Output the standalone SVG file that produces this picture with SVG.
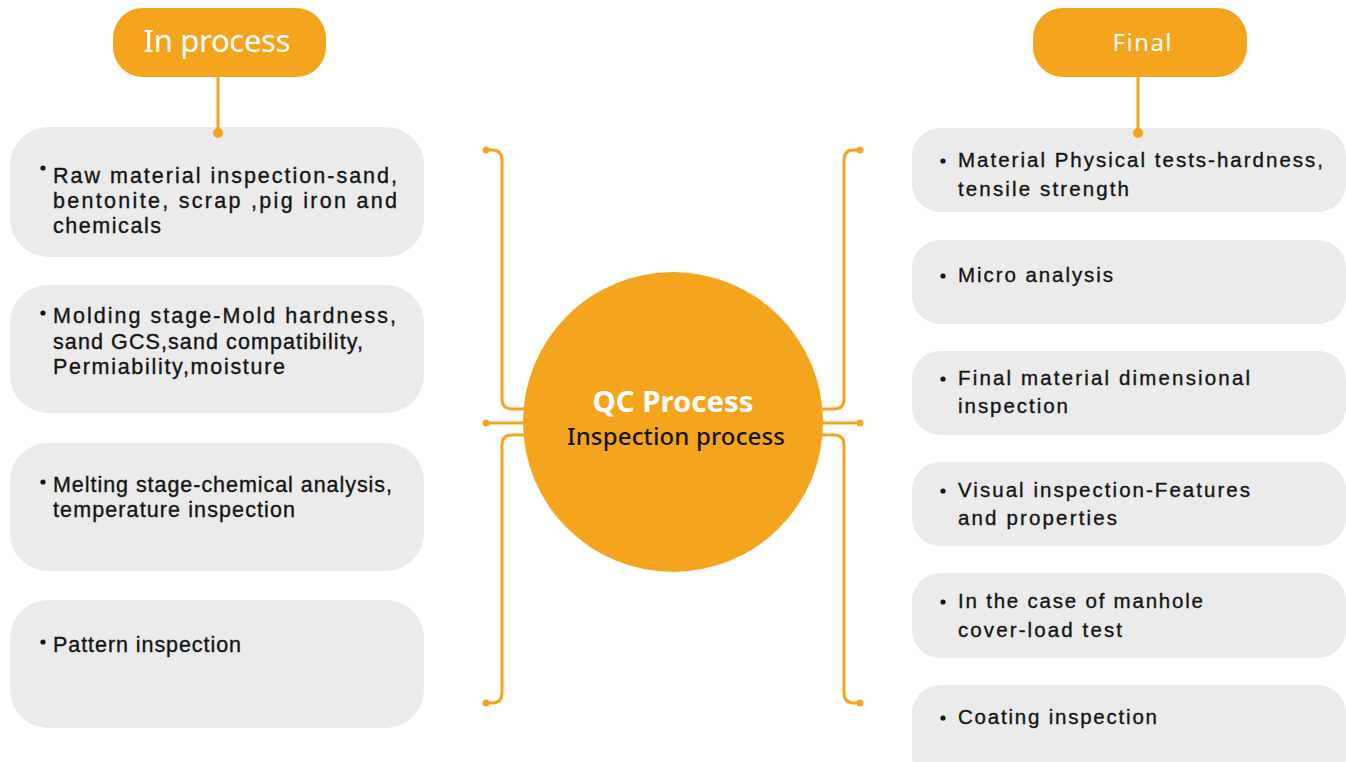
<svg xmlns="http://www.w3.org/2000/svg" width="1346" height="762" viewBox="0 0 1346 762">
<style>
.box{fill:#EBEBEB}
.pill{fill:#F5A51D}
.t{font-family:"Liberation Sans",Arial,sans-serif;fill:#141414;stroke:#141414;stroke-width:0.35}
.l{font-size:21.5px}
.r{font-size:20.5px}
.b{fill:#141414}
.ln{fill:none;stroke:#F5A51D;stroke-width:3;stroke-linecap:round}
.dot{fill:#F5A51D}
</style>
<rect width="1346" height="762" fill="#fff"/>
<g id="in-process">
<rect class="pill" x="113" y="8" width="213" height="69" rx="30"/>
<text x="217" y="52" text-anchor="middle" font-family="Noto Sans, Liberation Sans, sans-serif" font-size="31" fill="#fff" textLength="147" lengthAdjust="spacing">In process</text>
</g>
<g id="final">
<rect class="pill" x="1033" y="8" width="214" height="69" rx="30"/>
<text x="1142" y="51" text-anchor="middle" font-family="Noto Sans, Liberation Sans, sans-serif" font-size="24" fill="#fff" textLength="59" lengthAdjust="spacing">Final</text>
</g>
<g id="qc">
<circle cx="673" cy="422" r="150" fill="#F5A51D"/>
<text x="673" y="412" text-anchor="middle" font-family="Noto Sans, Liberation Sans, sans-serif" font-weight="700" font-size="28.5" fill="#fff" textLength="161" lengthAdjust="spacingAndGlyphs">QC Process</text>
<text x="676" y="445" text-anchor="middle" font-family="Noto Sans, Liberation Sans, sans-serif" font-weight="500" font-size="24" fill="#141414" textLength="218" lengthAdjust="spacing">Inspection process</text>
</g>
<g id="l1">
<rect class="box" x="10" y="127" width="414" height="130" rx="38"/>
<circle class="b" cx="43" cy="168" r="2.6"/>
<text class="t l" x="53" y="183" textLength="344" lengthAdjust="spacing">Raw material inspection-sand,</text>
<text class="t l" x="53" y="208" textLength="344" lengthAdjust="spacing">bentonite, scrap ,pig iron and</text>
<text class="t l" x="53" y="233" textLength="108" lengthAdjust="spacing">chemicals</text>
</g>
<g id="l2">
<rect class="box" x="10" y="285" width="414" height="128" rx="38"/>
<circle class="b" cx="43" cy="313" r="2.6"/>
<text class="t l" x="53" y="323" textLength="343" lengthAdjust="spacing">Molding stage-Mold hardness,</text>
<text class="t l" x="53" y="349" textLength="310" lengthAdjust="spacing">sand GCS,sand compatibility,</text>
<text class="t l" x="53" y="374" textLength="232" lengthAdjust="spacing">Permiability,moisture</text>
</g>
<g id="l3">
<rect class="box" x="10" y="443" width="414" height="128" rx="38"/>
<circle class="b" cx="43" cy="482" r="2.6"/>
<text class="t l" x="53" y="492" textLength="339" lengthAdjust="spacing">Melting stage-chemical analysis,</text>
<text class="t l" x="53" y="517" textLength="242" lengthAdjust="spacing">temperature inspection</text>
</g>
<g id="l4">
<rect class="box" x="10" y="600" width="414" height="128" rx="38"/>
<circle class="b" cx="43" cy="642" r="2.6"/>
<text class="t l" x="53" y="652" textLength="188" lengthAdjust="spacing">Pattern inspection</text>
</g>
<g id="r1">
<rect class="box" x="912" y="128" width="434" height="84" rx="28"/>
<circle class="b" cx="943" cy="161" r="2.6"/>
<text class="t r" x="958" y="167" textLength="365" lengthAdjust="spacing">Material Physical tests-hardness,</text>
<text class="t r" x="958" y="196" textLength="171" lengthAdjust="spacing">tensile strength</text>
</g>
<g id="r2">
<rect class="box" x="912" y="240" width="434" height="84" rx="28"/>
<circle class="b" cx="943" cy="276" r="2.6"/>
<text class="t r" x="958" y="282" textLength="155" lengthAdjust="spacing">Micro analysis</text>
</g>
<g id="r3">
<rect class="box" x="912" y="351" width="434" height="84" rx="28"/>
<circle class="b" cx="943" cy="379" r="2.6"/>
<text class="t r" x="958" y="385" textLength="292" lengthAdjust="spacing">Final material dimensional</text>
<text class="t r" x="958" y="413" textLength="110" lengthAdjust="spacing">inspection</text>
</g>
<g id="r4">
<rect class="box" x="912" y="462" width="434" height="84" rx="28"/>
<circle class="b" cx="943" cy="491" r="2.6"/>
<text class="t r" x="958" y="497" textLength="292" lengthAdjust="spacing">Visual inspection-Features</text>
<text class="t r" x="958" y="525" textLength="159" lengthAdjust="spacing">and properties</text>
</g>
<g id="r5">
<rect class="box" x="912" y="573" width="434" height="85" rx="28"/>
<circle class="b" cx="943" cy="602" r="2.6"/>
<text class="t r" x="958" y="608" textLength="245" lengthAdjust="spacing">In the case of manhole</text>
<text class="t r" x="958" y="637" textLength="164" lengthAdjust="spacing">cover-load test</text>
</g>
<g id="r6">
<rect class="box" x="912" y="685" width="434" height="100" rx="28"/>
<circle class="b" cx="943" cy="718" r="2.6"/>
<text class="t r" x="958" y="724" textLength="199" lengthAdjust="spacing">Coating inspection</text>
</g>
<g id="connectors">
<path class="ln" d="M218 77V133"/>
<circle class="dot" cx="218" cy="133" r="5"/>
<path class="ln" d="M1138 77V133"/>
<circle class="dot" cx="1138" cy="133" r="5"/>
<path class="ln" d="M486 150H492Q502 150 502 160V399Q502 409 512 409H526"/>
<path class="ln" d="M486 423H526"/>
<path class="ln" d="M526 435H512Q502 435 502 445V693Q502 703 492 703H486"/>
<path class="ln" d="M860 150H854Q844 150 844 160V399Q844 409 834 409H820"/>
<path class="ln" d="M860 423H820"/>
<path class="ln" d="M820 435H834Q844 435 844 445V693Q844 703 854 703H860"/>
<circle class="dot" cx="486" cy="150" r="3.5"/>
<circle class="dot" cx="486" cy="423" r="3.5"/>
<circle class="dot" cx="486" cy="703" r="3.5"/>
<circle class="dot" cx="860" cy="150" r="3.5"/>
<circle class="dot" cx="860" cy="423" r="3.5"/>
<circle class="dot" cx="860" cy="703" r="3.5"/>
</g>
</svg>
